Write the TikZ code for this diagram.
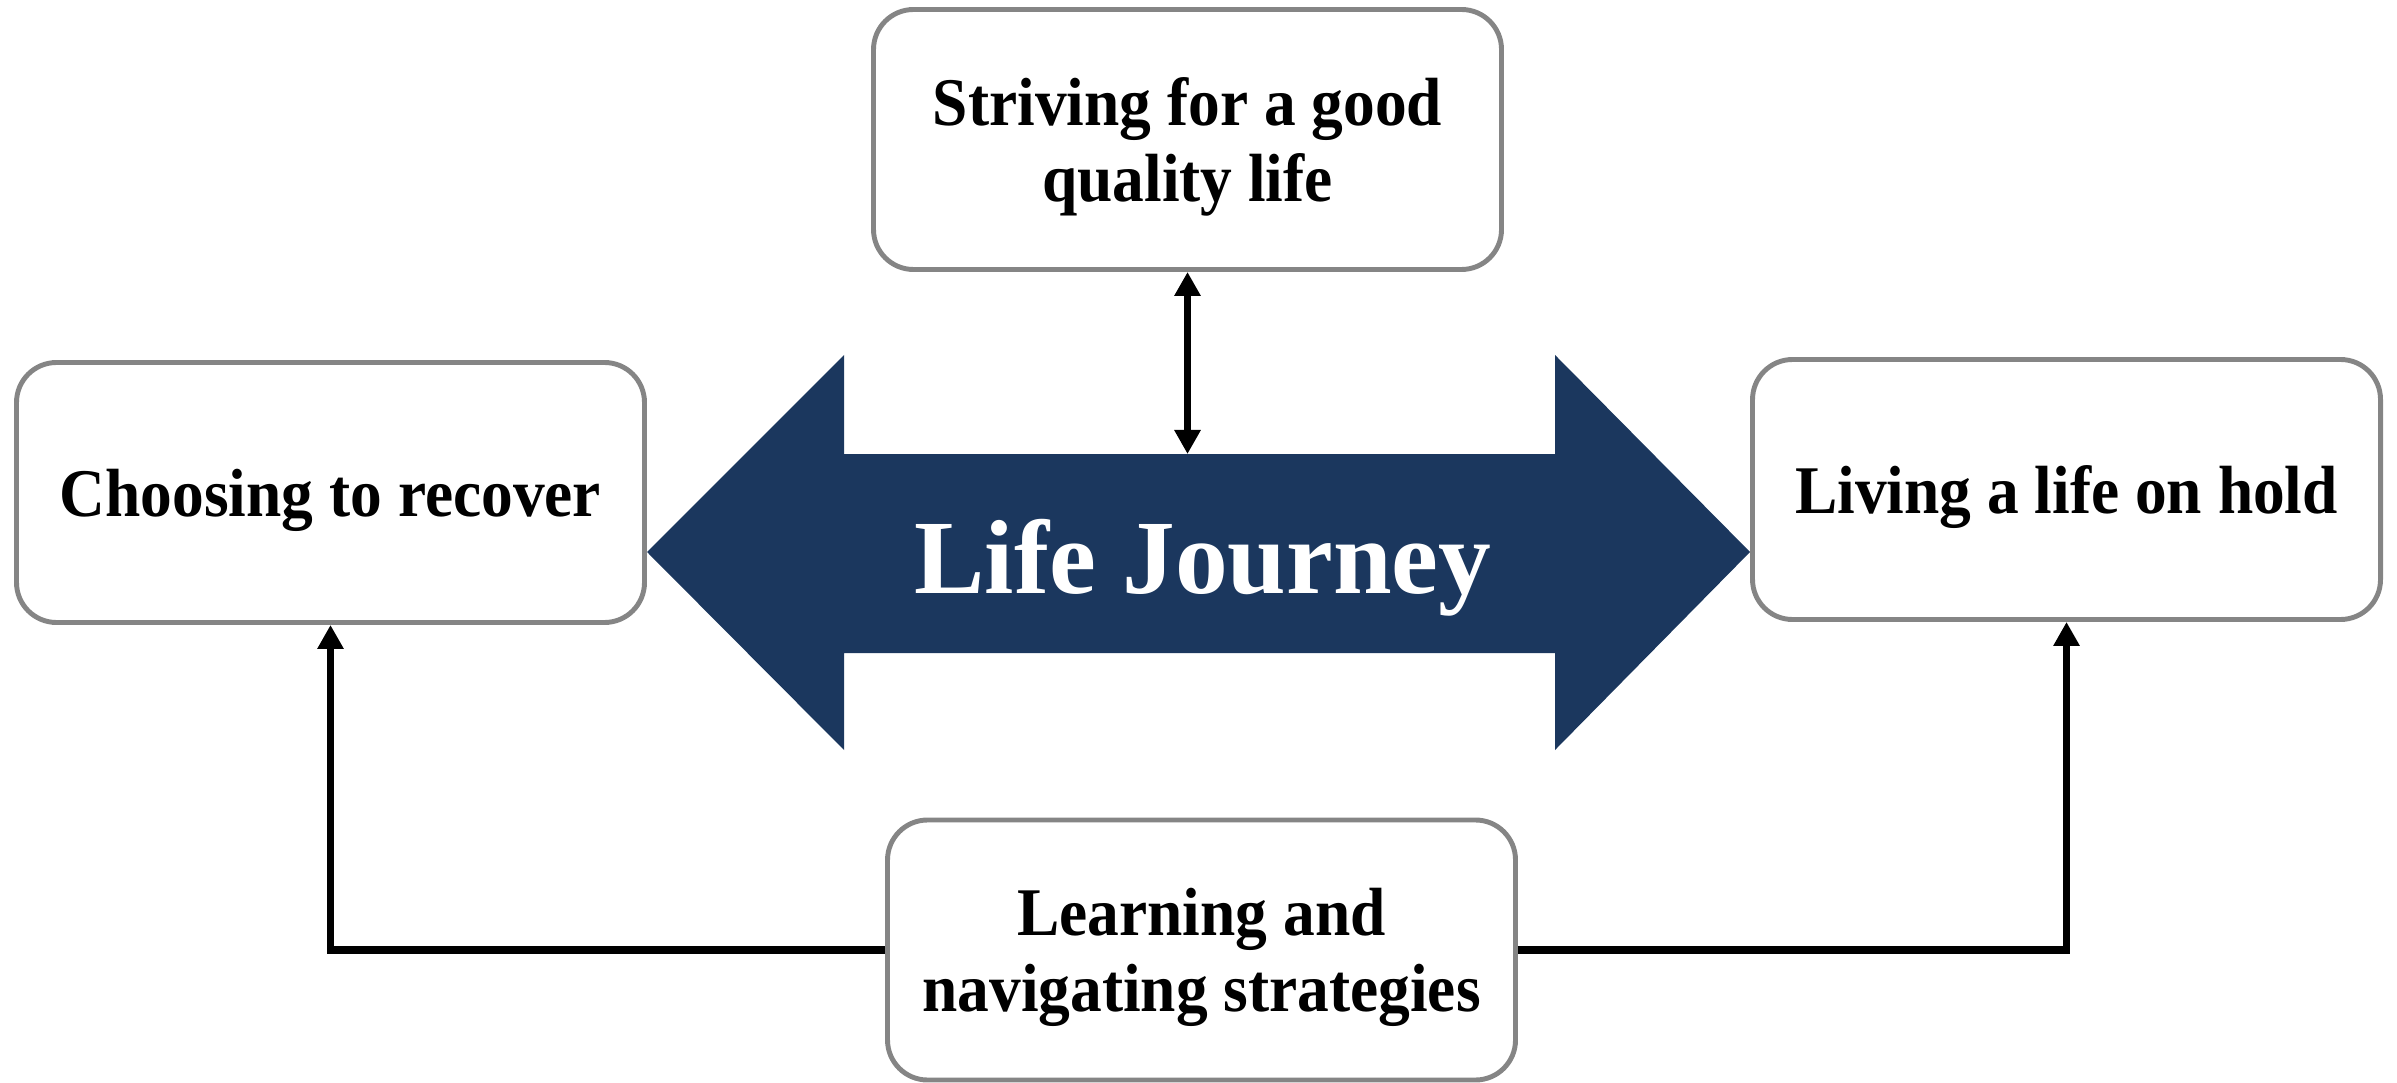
\documentclass[tikz,border=0pt]{standalone}
\usepackage{fontspec}
\setmainfont{Liberation Serif}
\newfontfamily\boxfont{Liberation Serif}[FakeStretch=0.93]
\usetikzlibrary{arrows.meta}
\definecolor{journeyblue}{HTML}{1B375E}
\definecolor{boxgray}{HTML}{858585}

\begin{document}
\begin{tikzpicture}[
	theme/.style={draw=boxgray, line width=1.4pt, rounded corners=0.4cm, fill=white,
		minimum width=6.28cm, minimum height=2.6cm, align=center, text depth=0pt,
		font=\boxfont\bfseries\fontsize{19.4}{21.8}\selectfont},
	link/.style={line width=2pt, -{Triangle[length=0.24cm,width=0.25cm]}},
	bothlink/.style={line width=2pt, {Triangle[length=0.24cm,width=0.25cm]}-{Triangle[length=0.24cm,width=0.25cm]}},
	]
	\useasboundingbox (0,0) rectangle (23.97,10.82);

	%double arrow in the middle
	\fill[journeyblue] (6.47,5.30) -- (8.44,7.27) -- (8.44,6.28) -- (15.55,6.28) -- (15.55,7.27)
		-- (17.50,5.30) -- (15.55,3.32) -- (15.55,4.29) -- (8.44,4.29) -- (8.44,3.32) -- cycle;
	\node[anchor=base, text=white, font=\bfseries\fontsize{30}{36}\selectfont] (journey) at (12.03,4.89) {Life Journey};
	\coordinate (shafttop) at (11.875,6.28);

	%themes around the journey
	\node[theme] (strive) at (11.875,9.425) {Striving for a good\\quality life};
	\node[theme] (choose) at (3.305,5.895) {Choosing to recover};
	\node[theme] (hold) at (20.665,5.925) {Living a life on hold};
	\node[theme] (learn) at (12.015,1.32) {Learning and\\navigating strategies};

	%connectors
	\draw[bothlink] (strive.south) -- (shafttop);
	\draw[link] (learn.west) -| (choose.south);
	\draw[link] (learn.east) -| (hold.south);
\end{tikzpicture}
\end{document}
